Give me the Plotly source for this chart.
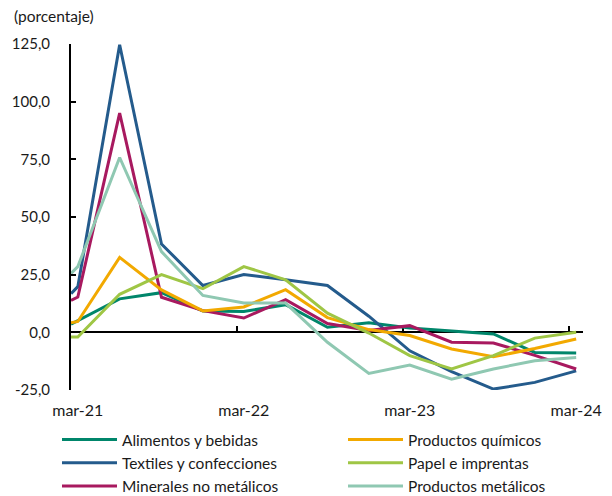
import plotly.graph_objects as go

# Fechas: inicio del eje (borde izquierdo) y trimestres mar-21 ... mar-24
fechas = ["2021-03-01", "2021-03-16", "2021-06-16", "2021-09-16", "2021-12-16",
          "2022-03-16", "2022-06-16", "2022-09-16", "2022-12-16",
          "2023-03-16", "2023-06-16", "2023-09-16", "2023-12-16", "2024-03-16"]

alimentos = [3.5, 5.0, 14.5, 17.2, 9.2, 9.0, 12.0, 2.2, 4.2, 1.9, 0.7, -0.7, -8.7, -9.0]
quimicos = [4.2, 4.7, 32.5, 18.4, 9.3, 11.0, 18.5, 6.4, 1.2, -1.4, -7.2, -10.6, -7.0, -2.9]
textiles = [16.8, 19.8, 124.7, 38.3, 20.3, 25.1, 22.8, 20.3, 7.0, -8.0, -17.0, -24.6, -21.7, -16.7]
papel = [-2.0, -2.0, 16.5, 25.0, 18.9, 28.5, 22.8, 8.3, -0.3, -10.1, -15.9, -10.1, -2.5, 0.0]
minerales = [13.8, 15.3, 95.0, 15.2, 9.4, 6.2, 14.2, 3.8, 0.8, 2.9, -4.3, -4.6, -10.0, -15.9]
metalicos = [25.5, 28.5, 75.8, 35.0, 16.0, 12.7, 12.7, -4.3, -17.8, -14.2, -20.3, -15.9, -12.3, -10.9]

# (nombre, valores, color, leyenda)
series = [
    ("Alimentos y bebidas", alimentos, "#00866B", "legend"),
    ("Textiles y confecciones", textiles, "#245B8C", "legend"),
    ("Minerales no metálicos", minerales, "#A8195F", "legend"),
    ("Productos químicos", quimicos, "#F2A900", "legend2"),
    ("Papel e imprentas", papel, "#9FC645", "legend2"),
    ("Productos metálicos", metalicos, "#8FC8B2", "legend2"),
]

y_ticks = [-25, 0, 25, 50, 75, 100, 125]
y_tick_text = ["-25,0", "0,0", "25,0", "50,0", "75,0", "100,0", "125,0"]
x_label_vals = ["2021-03-16", "2022-03-16", "2023-03-16", "2024-03-16"]
x_label_text = ["mar-21", "mar-22", "mar-23", "mar-24"]
x_tick_marks = ["2021-03-01", "2022-03-01", "2023-03-01", "2024-03-01"]
x_range = ["2021-03-01", "2024-03-31"]

FONT = "Lato"
W, H = 604, 496  # page body adds an 8px margin

fig = go.Figure()
# dummy trace for the label axis
fig.add_trace(go.Scatter(x=x_range, y=[None, None], xaxis="x", yaxis="y",
                         showlegend=False, hoverinfo="skip", mode="lines"))
for name, vals, color, leg in series:
    fig.add_trace(go.Scatter(x=fechas, y=vals, name=name, mode="lines",
                             line=dict(color=color, width=3),
                             xaxis="x2", yaxis="y", legend=leg))

leg_common = dict(orientation="v", xref="container", yref="container",
                  xanchor="left", yanchor="top", itemwidth=55,
                  font=dict(size=15.5), bgcolor="rgba(0,0,0,0)",
                  traceorder="normal")

fig.update_layout(
    width=W, height=H,
    margin=dict(l=63, r=29, t=36, b=114, autoexpand=False),
    paper_bgcolor="white", plot_bgcolor="white",
    font=dict(family=FONT, size=16, color="#1a1a1a"),
    showlegend=True,
    xaxis=dict(type="date", range=x_range, showline=False, showgrid=False,
               zeroline=False, ticks="", tickmode="array",
               tickvals=x_label_vals, ticktext=x_label_text,
               ticklabelstandoff=9, tickfont=dict(size=16), automargin=False),
    xaxis2=dict(type="date", range=x_range, overlaying="x", anchor="free",
                position=25 / 150, side="bottom", showline=True,
                linecolor="black", linewidth=2, showgrid=False, zeroline=False,
                ticks="inside", ticklen=5, tickwidth=2, tickcolor="black",
                tickmode="array", tickvals=x_tick_marks, showticklabels=False,
                layer="below traces", automargin=False),
    yaxis=dict(range=[-25, 125], tickmode="array", tickvals=y_ticks,
               ticktext=y_tick_text, showline=True, linecolor="black",
               linewidth=2, ticks="inside", ticklen=5, tickwidth=2,
               tickcolor="black", showgrid=False, zeroline=False,
               ticklabelstandoff=16, tickfont=dict(size=15), automargin=False),
    legend=dict(x=49 / W, y=1 - 415 / H, **leg_common),
    legend2=dict(x=335 / W, y=1 - 415 / H, **leg_common),
    annotations=[dict(text="(porcentaje)", xref="paper", yref="paper",
                      x=-59 / 512, y=1 + 28 / 346, xanchor="left",
                      yanchor="middle", showarrow=False, font=dict(size=15.5))],
)

fig.write_html("out.html")
